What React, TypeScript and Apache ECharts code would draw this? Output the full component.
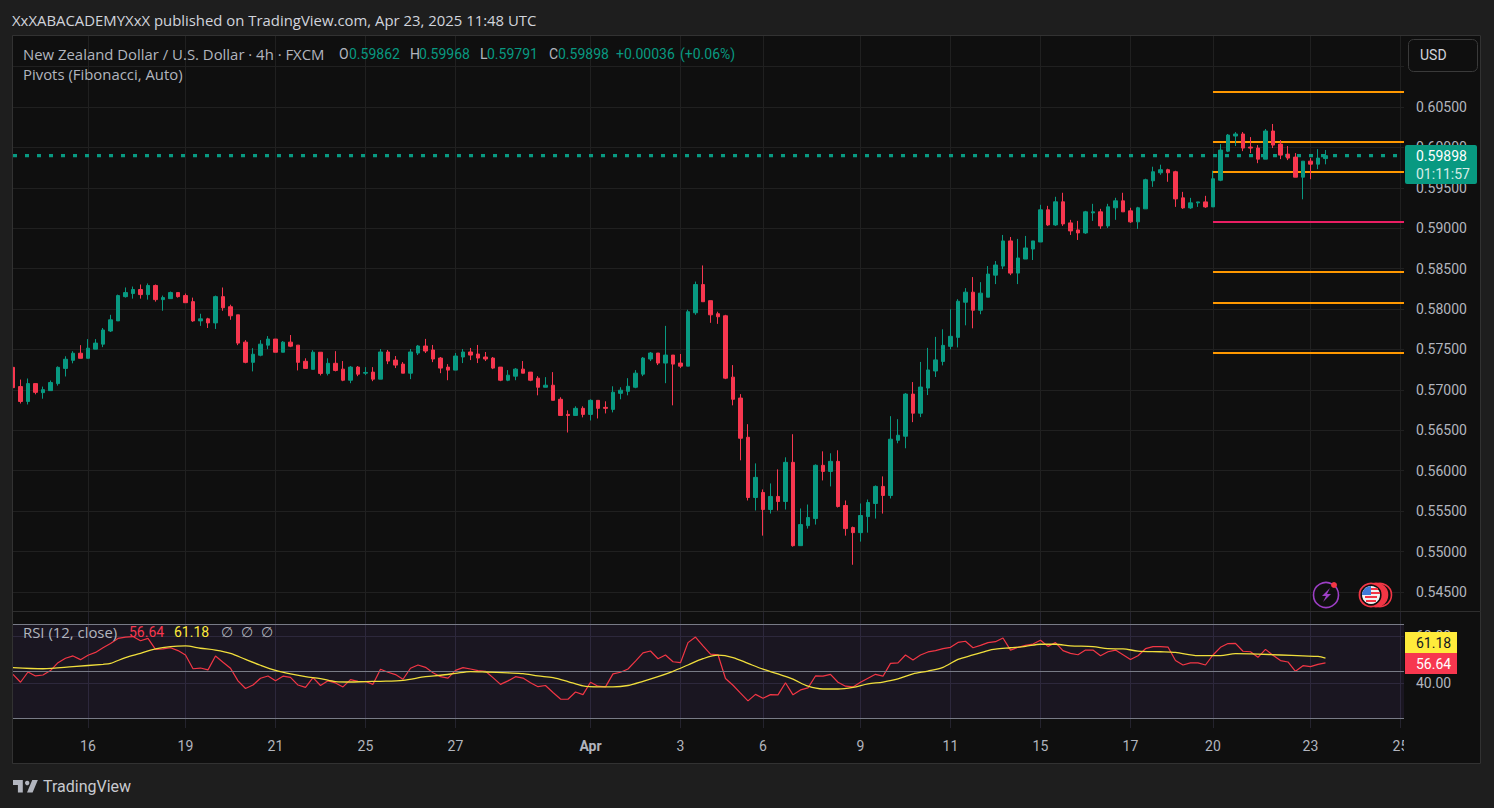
import React, { useEffect, useRef } from "react";
import * as echarts from "echarts";

const PAGE_W = 1494;
const PAGE_H = 808;

// open, close, low, high
const candles = [
[0.57279,0.57028,0.57016,0.57279],[0.57041,0.56857,0.56832,0.57128],[0.56857,0.57078,0.56820,0.57141],[0.57078,0.56970,0.56945,0.57078],
[0.56966,0.57003,0.56891,0.57041],[0.56991,0.57091,0.56991,0.57116],[0.57078,0.57279,0.57053,0.57291],[0.57266,0.57379,0.57166,0.57416],
[0.57366,0.57454,0.57329,0.57479],[0.57454,0.57391,0.57391,0.57554],[0.57391,0.57516,0.57391,0.57629],[0.57504,0.57579,0.57504,0.57629],
[0.57566,0.57741,0.57529,0.57766],[0.57729,0.57867,0.57716,0.57929],[0.57854,0.58167,0.57854,0.58179],[0.58154,0.58204,0.58142,0.58267],
[0.58192,0.58242,0.58129,0.58279],[0.58242,0.58179,0.58129,0.58304],[0.58179,0.58292,0.58117,0.58317],[0.58292,0.58117,0.58092,0.58304],
[0.58117,0.58142,0.57979,0.58167],[0.58129,0.58204,0.58129,0.58217],[0.58204,0.58154,0.58142,0.58204],[0.58167,0.58079,0.58079,0.58192],
[0.58092,0.57854,0.57842,0.58142],[0.57854,0.57879,0.57792,0.57942],[0.57879,0.57829,0.57766,0.57892],[0.57829,0.58154,0.57754,0.58167],
[0.58154,0.58017,0.57979,0.58267],[0.58029,0.57917,0.57867,0.58054],[0.57929,0.57579,0.57554,0.57929],[0.57591,0.57341,0.57329,0.57616],
[0.57341,0.57441,0.57229,0.57516],[0.57429,0.57566,0.57416,0.57616],[0.57554,0.57629,0.57504,0.57666],[0.57629,0.57466,0.57466,0.57629],
[0.57466,0.57591,0.57466,0.57604],[0.57591,0.57541,0.57529,0.57679],[0.57554,0.57341,0.57241,0.57554],[0.57354,0.57266,0.57266,0.57391],
[0.57254,0.57466,0.57254,0.57491],[0.57466,0.57204,0.57179,0.57466],[0.57204,0.57329,0.57179,0.57391],[0.57329,0.57241,0.57229,0.57479],
[0.57257,0.57120,0.57108,0.57357],[0.57120,0.57282,0.57083,0.57295],[0.57282,0.57195,0.57170,0.57295],[0.57207,0.57216,0.57183,0.57282],
[0.57220,0.57133,0.57108,0.57282],[0.57133,0.57469,0.57133,0.57506],[0.57469,0.57357,0.57319,0.57494],[0.57369,0.57307,0.57270,0.57419],
[0.57319,0.57207,0.57207,0.57344],[0.57207,0.57469,0.57133,0.57506],[0.57456,0.57543,0.57431,0.57556],[0.57543,0.57481,0.57456,0.57631],
[0.57494,0.57382,0.57344,0.57556],[0.57394,0.57270,0.57207,0.57407],[0.57282,0.57245,0.57120,0.57319],[0.57245,0.57419,0.57245,0.57456],
[0.57407,0.57469,0.57332,0.57506],[0.57469,0.57431,0.57369,0.57519],[0.57444,0.57394,0.57332,0.57556],[0.57407,0.57382,0.57357,0.57469],
[0.57394,0.57270,0.57257,0.57407],[0.57282,0.57120,0.57108,0.57282],[0.57120,0.57182,0.57108,0.57245],[0.57170,0.57257,0.57120,0.57270],
[0.57257,0.57207,0.57207,0.57357],[0.57220,0.57120,0.57108,0.57220],[0.57145,0.57033,0.56933,0.57170],[0.57033,0.57058,0.57033,0.57158],
[0.57058,0.56871,0.56871,0.57220],[0.56884,0.56684,0.56684,0.56909],[0.56697,0.56684,0.56473,0.56747],[0.56684,0.56772,0.56684,0.56797],
[0.56772,0.56697,0.56660,0.56797],[0.56697,0.56871,0.56622,0.56884],[0.56871,0.56772,0.56647,0.56871],[0.56784,0.56772,0.56709,0.56859],
[0.56759,0.56971,0.56722,0.57045],[0.56958,0.56996,0.56884,0.57033],[0.56983,0.57045,0.56933,0.57145],[0.57033,0.57207,0.57021,0.57245],
[0.57195,0.57394,0.57170,0.57407],[0.57382,0.57456,0.57357,0.57469],[0.57456,0.57332,0.57307,0.57456],[0.57332,0.57431,0.57083,0.57792],
[0.57431,0.57319,0.56809,0.57431],[0.57332,0.57294,0.57270,0.57444],[0.57294,0.57967,0.57294,0.57992],[0.57954,0.58303,0.57929,0.58340],
[0.58303,0.58091,0.58091,0.58540],[0.58104,0.57929,0.57830,0.58104],[0.57942,0.57905,0.57817,0.57967],[0.57917,0.57145,0.57133,0.57929],
[0.57158,0.56884,0.56809,0.57307],[0.56899,0.56402,0.56129,0.56948],[0.56414,0.55669,0.55632,0.56576],[0.55669,0.55918,0.55508,0.56091],
[0.55731,0.55520,0.55197,0.55769],[0.55520,0.55682,0.55470,0.55843],[0.55682,0.55619,0.55508,0.56017],[0.55619,0.56104,0.55520,0.56166],
[0.56104,0.55073,0.55061,0.56452],[0.55073,0.55334,0.55073,0.55533],[0.55321,0.55421,0.55284,0.55582],[0.55408,0.56067,0.55334,0.56079],
[0.56067,0.55992,0.55880,0.56240],[0.55992,0.56116,0.55806,0.56216],[0.56116,0.55557,0.55545,0.56253],[0.55570,0.55284,0.55197,0.55632],
[0.55297,0.55234,0.54837,0.55309],[0.55234,0.55446,0.55123,0.55595],[0.55433,0.55607,0.55234,0.55644],[0.55595,0.55806,0.55408,0.55818],
[0.55806,0.55694,0.55470,0.55930],[0.55694,0.56390,0.55657,0.56675],[0.56377,0.56439,0.56340,0.56638],[0.56427,0.56948,0.56278,0.56961],
[0.56948,0.56712,0.56601,0.57097],[0.56712,0.57035,0.56663,0.57346],[0.57023,0.57247,0.56936,0.57520],[0.57234,0.57371,0.57160,0.57656],
[0.57352,0.57551,0.57303,0.57750],[0.57539,0.57663,0.57501,0.57998],[0.57650,0.58097,0.57526,0.58122],[0.58085,0.58209,0.57799,0.58259],
[0.58209,0.57986,0.57762,0.58396],[0.57986,0.58197,0.57936,0.58333],[0.58147,0.58433,0.58147,0.58532],[0.58420,0.58545,0.58309,0.58594],
[0.58532,0.58843,0.58495,0.58917],[0.58843,0.58445,0.58420,0.58892],[0.58445,0.58632,0.58309,0.58868],[0.58619,0.58756,0.58619,0.58905],
[0.58743,0.58843,0.58607,0.58843],[0.58830,0.59228,0.58830,0.59290],[0.59228,0.59041,0.59029,0.59277],[0.59041,0.59327,0.59029,0.59389],
[0.59327,0.59054,0.59029,0.59439],[0.59066,0.58967,0.58917,0.59104],[0.58979,0.58942,0.58855,0.59091],[0.58942,0.59203,0.58930,0.59215],
[0.59190,0.59203,0.59091,0.59302],[0.59203,0.59029,0.58992,0.59240],[0.59029,0.59265,0.59004,0.59302],[0.59253,0.59339,0.59104,0.59377],
[0.59339,0.59203,0.59203,0.59439],[0.59215,0.59079,0.59066,0.59253],[0.59079,0.59253,0.58992,0.59265],[0.59240,0.59600,0.59240,0.59613],
[0.59587,0.59699,0.59512,0.59761],[0.59686,0.59724,0.59661,0.59786],[0.59724,0.59686,0.59575,0.59736],[0.59699,0.59363,0.59264,0.59711],
[0.59376,0.59252,0.59239,0.59450],[0.59252,0.59314,0.59239,0.59376],[0.59314,0.59326,0.59264,0.59326],[0.59326,0.59264,0.59252,0.59401],
[0.59264,0.59612,0.59264,0.59711],[0.59594,0.59967,0.59582,0.60041],[0.59954,0.60153,0.59942,0.60166],[0.60141,0.60166,0.60017,0.60190],
[0.60166,0.59992,0.59954,0.60190],[0.60004,0.59992,0.59930,0.60128],[0.59992,0.59855,0.59805,0.60029],[0.59855,0.60203,0.59855,0.60228],
[0.60203,0.60029,0.59992,0.60290],[0.60041,0.59905,0.59855,0.60091],[0.59917,0.59868,0.59843,0.60017],[0.59880,0.59632,0.59632,0.59930],
[0.59632,0.59830,0.59358,0.59830],[0.59830,0.59793,0.59607,0.59868],[0.59793,0.59868,0.59731,0.59979],[0.59862,0.59898,0.59791,0.59968],
];

const rsiValues = [
43.7,40.3,44.7,43,43.4,45.3,48.7,50.6,51.6,50,51.9,53.1,55.1,56.9,59.1,59.7,59.9,58.1,59.1,54.4,54.6,55.1,53.9,52,46.1,46.4,45.6,51.6,48.9,46.3,
40.9,37.6,39.1,42,43,40.9,42.9,42.4,39.1,38.1,42.3,38.9,40.9,40,38.3,41.4,40.7,40.6,39.4,45.9,44.6,43.6,41.6,46.3,47.7,46.7,44.4,42.7,42.1,45.4,
46.6,46,45.3,45,42.3,39.4,40.9,42.7,42.1,40.1,38.4,38.9,35.9,33.1,33,36.1,35,40.3,38.6,38.3,43.9,44.6,46,49.4,52.9,53.7,50.4,52,49.1,48.7,
57.3,59.7,55.9,52.4,52.1,41.9,39,35.6,32.3,35.1,33.4,35,34.9,40.1,34.9,37,37.9,43,42.9,43.7,40.3,38.6,38.3,40.3,42,43.7,42.9,48.4,48.6,52,49.9,52,
53.3,53.9,54.7,55.3,57.4,57.9,55.1,56.1,57.3,57.7,59.3,54.1,55.3,56.1,56.7,58.3,55.7,57.3,53.9,52.7,52.1,54.1,54.1,51.7,53.4,54.1,52.1,50.1,51.7,54.7,
55.6,55.6,55.4,49.6,47.7,48.6,48.6,47.7,52,55.3,56.9,57,53.6,53.4,51,54.4,51.9,49.6,49,45,47.4,47,48,48.6,
];

const rsiMaIndex = [0,4,8,12,13,15,17,19,21,23,25,27,29,31,33,35,37,39,41,43,45,47,49,52,55,57,59,61,63,66,68,70,72,74,76,78,80,82,84,86,88,90,92,94,96,98,100,102,104,106,108,110,112,114,116,118,120,122,124,126,128,130,131,133,135,137,139,141,144,146,148,150,153,155,158,161,163,166,169,172,174,175];
const rsiMaValues = [46.6,46.1,47,48,48.4,50.9,52.7,54.6,55.6,55.9,54.9,54.1,52.7,50.1,47.6,45.4,43.9,42.7,41.9,40.6,40.4,40.6,40.7,41.1,42.7,43.3,44.1,44.9,44.7,44.3,44,43,42.3,40.6,38.7,38.3,38.3,38.9,40.7,42.7,45,47.7,50.4,51.9,50.9,48.4,45.9,43.9,41.6,38.6,37.4,37.4,38.1,39.6,40.4,41.7,43.9,45.1,46.7,50.1,52,53.9,54.5,55.1,55.7,56.6,56.6,55.9,55.6,54.7,54.6,53.7,53.4,53.1,51.7,51.7,52.6,52.4,52,51.6,51.4,50.7];

const dateTickIndex = [10,23,35,47,59,77,89,100,113,125,137,149,160,173,185];
const dateTickLabels = ["16","19","21","25","27","Apr","3","6","9","11","15","17","20","23","25"];
const priceTicks = [0.545,0.55,0.555,0.56,0.565,0.57,0.575,0.58,0.585,0.59,0.595,0.6,0.605,0.61];
const rsiTicks = [40,60];
const rsiLevels = [65,45,25];
const pivotLevels = [0.60686,0.60067,0.59696,0.59077,0.58459,0.58075,0.57457];
const pivotColors = ["#ff9800","#ff9800","#ff9800","#e91e63","#ff9800","#ff9800","#ff9800"];
const pivotStartIndex = 160;
const lastPrice = 0.59898;

const UP = "#089981";
const DOWN = "#f7374f";
const GRID = "#202020";
const LABEL = "#b2b5be";
const FONT = "Roboto";
const HEAD_FONT = `14.9px "Open Sans"`;
const X_MAX = 185.47;

echarts.graphic.registerShape("tvlogo", echarts.graphic.extendPath("M14 22H7V11H0V4h14v18Z M28 22h-8l7.5-18h8L28 22Z", {}));

const txt = (text: string, x: number, y: number, fill = LABEL, font = `14px ${FONT}`, z = 50) => ({
  type: "text", x, y, z, silent: true,
  style: { text, fill, font, textVerticalAlign: "middle", textAlign: "left" },
});

const buildOption = () => {
  const graphic: any[] = [
    // frame
    { type: "rect", z: 40, shape: { x: 0, y: 0, width: 13, height: PAGE_H }, style: { fill: "#1e1e1e" } },
    { type: "rect", z: 40, shape: { x: 0, y: 0, width: PAGE_W, height: 35 }, style: { fill: "#1e1e1e" } },
    { type: "rect", z: 40, shape: { x: 0, y: 764, width: PAGE_W, height: 44 }, style: { fill: "#1e1e1e" } },
    { type: "rect", z: 40, shape: { x: 1481, y: 0, width: 13, height: PAGE_H }, style: { fill: "#1e1e1e" } },
    { type: "rect", z: 41, shape: { x: 12.5, y: 35.5, width: 1468, height: 728 }, style: { fill: "none", stroke: "#323232", lineWidth: 1 } },
    { type: "line", z: 41, shape: { x1: 13, y1: 611.5, x2: 1481, y2: 611.5 }, style: { stroke: "#2e2e2e", lineWidth: 1 } },
    // clip of the last date label
    { type: "rect", z: 30, shape: { x: 1404, y: 735, width: 60, height: 24 }, style: { fill: "#0f0f0f" } },
    // titles
    txt("XxXABACADEMYXxX published on TradingView.com, Apr 23, 2025 11:48 UTC", 12, 19.5, "#d1d4dc", HEAD_FONT),
    txt("New Zealand Dollar / U.S. Dollar · 4h · FXCM", 23, 53.5, LABEL, HEAD_FONT),
    txt("O", 339, 54), txt("0.59862", 349, 54, UP),
    txt("H", 410, 54), txt("0.59968", 419, 54, UP),
    txt("L", 480, 54), txt("0.59791", 487, 54, UP),
    txt("C", 549, 54), txt("0.59898", 558, 54, UP),
    txt("+0.00036", 616, 54, UP), txt("(+0.06%)", 680, 54, UP),
    txt("Pivots (Fibonacci, Auto)", 23, 74, LABEL, HEAD_FONT),
    txt("RSI (12, close)", 23, 631.5, LABEL, HEAD_FONT),
    txt("56.64", 129, 632, DOWN),
    txt("61.18", 174, 632, "#ffeb3b"),
    txt("∅", 221, 632), txt("∅", 241, 632), txt("∅", 261, 632),
    // currency button
    { type: "rect", z: 50, shape: { x: 1408.5, y: 39.5, width: 69, height: 32, r: 5 }, style: { fill: "#0f0f0f", stroke: "#3a3a3a", lineWidth: 1 } },
    txt("USD", 1420, 55, "#d1d4dc"),
    // price tag
    { type: "rect", z: 60, shape: { x: 1405, y: 145, width: 72, height: 39, r: [2, 2, 2, 2] }, style: { fill: UP } },
    txt("0.59898", 1416, 155.5, "#ffffff", `14px ${FONT}`, 61),
    txt("01:11:57", 1416, 173.5, "#d5ece7", `14px ${FONT}`, 61),
    // RSI tags
    { type: "rect", z: 60, shape: { x: 1405, y: 632, width: 52, height: 21 }, style: { fill: "#ffeb3b" } },
    txt("61.18", 1416, 642.5, "#131722", `14px ${FONT}`, 61),
    { type: "rect", z: 60, shape: { x: 1405, y: 653, width: 52, height: 21 }, style: { fill: DOWN } },
    txt("56.64", 1416, 664, "#ffffff", `14px ${FONT}`, 61),
    // lightning badge
    { type: "circle", z: 50, shape: { cx: 1326, cy: 595, r: 12.5 }, style: { fill: "#0f0f0f", stroke: "#9c3fc4", lineWidth: 1.6 } },
    { type: "polygon", z: 51, shape: { points: [[1330, 588], [1322, 596], [1326, 596], [1323, 602], [1331, 594], [1327, 594]] }, style: { fill: "#9c3fc4" } },
    { type: "circle", z: 52, shape: { cx: 1334, cy: 585, r: 3 }, style: { fill: "#f23645" } },
    // flag badge
    { type: "circle", z: 50, shape: { cx: 1380, cy: 595, r: 11.5 }, style: { fill: "#0f0f0f", stroke: "#f23645", lineWidth: 1.6 } },
    { type: "circle", z: 50, shape: { cx: 1376, cy: 595, r: 11.5 }, style: { fill: "#f23645", stroke: "#f23645", lineWidth: 1.6 } },
    { type: "circle", z: 51, shape: { cx: 1371, cy: 595, r: 11.5 }, style: { fill: "#0f0f0f", stroke: "#f23645", lineWidth: 1.8 } },
    { type: "circle", z: 52, shape: { cx: 1371, cy: 595, r: 9 }, style: { fill: "#f1f1f1" } },
    { type: "rect", z: 53, shape: { x: 1365, y: 596, width: 12, height: 2 }, style: { fill: "#f23645" } },
    { type: "rect", z: 53, shape: { x: 1366, y: 600, width: 10, height: 2 }, style: { fill: "#f23645" } },
    { type: "sector", z: 53, shape: { cx: 1371, cy: 595, r: 9, r0: 0, startAngle: Math.PI * 1.0, endAngle: Math.PI * 1.5 }, style: { fill: "#3f7bd9" } },
    { type: "rect", z: 53, shape: { x: 1371, y: 588, width: 7, height: 2 }, style: { fill: "#f23645" } },
    { type: "rect", z: 53, shape: { x: 1371, y: 592, width: 9, height: 2 }, style: { fill: "#f23645" } },
    // footer
    { type: "tvlogo", z: 50, x: 13, y: 777.2, scaleX: 0.7, scaleY: 0.7, style: { fill: "#b2b5be" } },
    { type: "circle", z: 50, shape: { cx: 27.2, cy: 783, r: 2.2 }, style: { fill: "#b2b5be" } },
    txt("TradingView", 43, 786, "#c8cad0", `16px ${FONT}`),
  ];

  const pivotSeries = pivotLevels.map((level, i) => ({
    type: "line", xAxisIndex: 0, yAxisIndex: 0, silent: true, symbol: "none",
    data: [[pivotStartIndex, level], [X_MAX, level]],
    lineStyle: { color: pivotColors[i], width: 2 }, z: 3,
  }));

  return {
    animation: false,
    backgroundColor: "#0f0f0f",
    graphic,
    grid: [
      { left: 13, top: 36, width: 1391, height: 575, containLabel: false },
      { left: 13, top: 612, width: 1391, height: 116, containLabel: false },
    ],
    xAxis: [
      {
        type: "value", gridIndex: 0, min: 0, max: X_MAX,
        axisLine: { show: false },
        axisTick: { show: false, customValues: dateTickIndex },
        axisLabel: { show: false, customValues: dateTickIndex },
        splitLine: { show: true, lineStyle: { color: GRID, width: 1 } },
      },
      {
        type: "value", gridIndex: 1, min: 0, max: X_MAX,
        axisLine: { show: false },
        axisTick: { show: false, customValues: dateTickIndex },
        axisLabel: {
          show: true, customValues: dateTickIndex, margin: 11, hideOverlap: false, showMinLabel: true, showMaxLabel: true,
          color: LABEL, fontFamily: FONT, fontSize: 14,
          formatter: (v: number) => {
            const label = dateTickLabels[dateTickIndex.indexOf(Math.round(v))] ?? "";
            return label === "Apr" ? "{b|Apr}" : label;
          },
          rich: { b: { fontWeight: "bold", fontFamily: FONT, fontSize: 14, color: LABEL } },
        },
        splitLine: { show: true, lineStyle: { color: "#24232d", width: 1 } },
      },
    ],
    yAxis: [
      {
        type: "value", gridIndex: 0, position: "right",
        min: 0.605 - (611 - 107) / 8083, max: 0.605 + (107 - 36) / 8083,
        axisLine: { show: false },
        axisTick: { show: false, customValues: priceTicks },
        axisLabel: {
          show: true, customValues: priceTicks, margin: 12, color: LABEL, fontFamily: FONT, fontSize: 14,
          formatter: (v: number) => (v > 0.607 ? "" : v.toFixed(5)),
        },
        splitLine: { show: true, lineStyle: { color: GRID, width: 1 } },
      },
      {
        type: "value", gridIndex: 1, position: "right",
        min: 45 - (728 - 671.3) / 2.33, max: 45 + (671.3 - 612) / 2.33,
        axisLine: { show: false },
        axisTick: { show: false, customValues: rsiTicks },
        axisLabel: {
          show: true, customValues: rsiTicks, margin: 12, color: LABEL, fontFamily: FONT, fontSize: 14,
          formatter: (v: number) => v.toFixed(2),
        },
        splitLine: { show: true, lineStyle: { color: "#24232d", width: 1 } },
      },
    ],
    series: [
      {
        type: "line", xAxisIndex: 0, yAxisIndex: 0, silent: true, symbol: "none", z: 2,
        data: [[0, lastPrice], [X_MAX, lastPrice]],
        lineStyle: { color: UP, width: 3.4, type: [4, 8] },
      },
      ...pivotSeries,
      {
        type: "candlestick", xAxisIndex: 0, yAxisIndex: 0, silent: true, z: 5,
        barWidth: 4,
        encode: { x: 0, y: [1, 2, 3, 4] },
        data: candles.map((c, i) => [i, ...c]),
        itemStyle: { color: UP, color0: DOWN, borderColor: UP, borderColor0: DOWN, borderColorDoji: DOWN, borderWidth: 1 },
      },
      {
        type: "line", xAxisIndex: 1, yAxisIndex: 1, silent: true, symbol: "none", z: 4,
        data: rsiValues.map((v, i) => [i, v]),
        lineStyle: { color: "#f23645", width: 1.2 },
        markArea: {
          silent: true,
          itemStyle: { color: "rgba(126,87,194,0.1)" },
          data: [[{ yAxis: rsiLevels[0] }, { yAxis: rsiLevels[2] }]],
        },
        markLine: {
          silent: true, symbol: "none", label: { show: false },
          lineStyle: { color: "#787b86", width: 1, type: "solid" },
          data: rsiLevels.map((l) => ({ yAxis: l })),
        },
      },
      {
        type: "line", xAxisIndex: 1, yAxisIndex: 1, silent: true, symbol: "none", z: 5, smooth: 0.3,
        data: rsiMaIndex.map((x, i) => [x, rsiMaValues[i]]),
        lineStyle: { color: "#f0de3c", width: 1.3 },
      },
    ],
  };
};

export default function App() {
  const ref = useRef<HTMLDivElement>(null);
  useEffect(() => {
    if (!ref.current) return;
    const chart = echarts.init(ref.current, undefined, { renderer: "svg" });
    chart.setOption(buildOption() as any);
    return () => chart.dispose();
  }, []);
  return <div ref={ref} style={{ position: "fixed", left: 0, top: 0, width: PAGE_W, height: PAGE_H }} />;
}
